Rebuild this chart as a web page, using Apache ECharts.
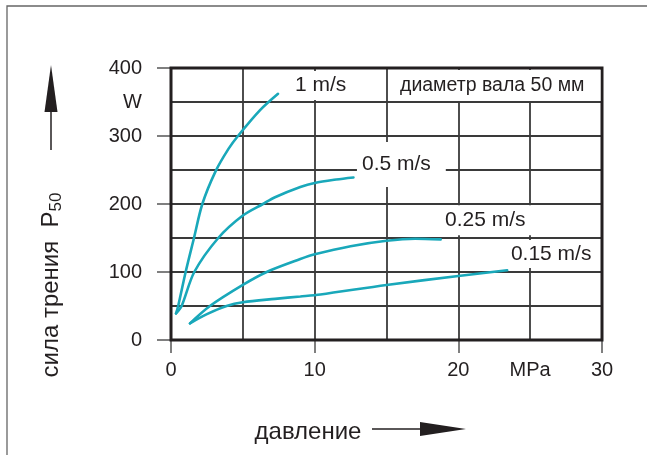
<!DOCTYPE html>
<html>
<head>
<meta charset="utf-8">
<script src="https://cdn.jsdelivr.net/npm/echarts@6/dist/echarts.min.js"></script>
<style>
    html, body { margin: 0; padding: 0; background: #fff; }
    #chart { width: 647px; height: 455px; }
</style>
</head>
<body>
<div id="chart"></div>
<script>
// speeds (curve labels)
const speedNames = ['1 m/s', '0.5 m/s', '0.25 m/s', '0.15 m/s'];

// pressure, MPa / friction force P50, W
const pressure1 = [0.35, 0.5, 1.02, 1.6, 2.18, 3.1, 4.0, 4.66, 6.2, 7.45];
const friction1 = [39, 50, 100, 150, 200, 248, 281, 300, 338, 362];

const pressure05 = [0.35, 0.74, 1.62, 3.29, 5.0, 6.4, 7.24, 9.0, 10.0, 11.5, 12.7];
const friction05 = [39, 50, 100, 150, 183, 200, 210, 225, 231, 236, 239];

const pressure025 = [1.32, 2.71, 5.0, 6.66, 9.0, 10.0, 12.5, 15.0, 17.0, 18.77];
const friction025 = [24.5, 50, 81, 100, 119, 126, 138, 146, 149, 148];

const pressure015 = [1.32, 2.5, 3.87, 5.0, 7.24, 9.0, 10.4, 15.0, 20.0, 23.4];
const friction015 = [24.5, 38, 50, 55.5, 60.5, 64, 67, 81, 94, 102.5];

const xLabelValues = [0, 10, 20, 25, 30];
const xTickValues = [0, 10, 20, 30];
const yLabelValues = [0, 100, 200, 300, 350, 400];
const yTickValues = [0, 100, 200, 300, 400];

const diameterNote = 'диаметр вала 50 мм';
const yName = 'сила трения';
const xName = 'давление';

const font = 'Liberation Sans';
const ink = '#231f20';
const curveColor = '#19a8ba';
const gridLine = { show: true, lineStyle: { color: '#3a3a3a', width: 1.8 } };

function pairs(xs, ys) {
    return xs.map((x, i) => [x, ys[i]]);
}

// label box settings per curve: offset from curve end, padding of white box
const labelBoxes = [
    { offset: [3, -8.3], padding: [4, 6, 5, 6] },
    { offset: [-4.5, -13], padding: [18, 15, 7, 5] },
    { offset: [-5.7, -19], padding: [7, 10, 3, 2] },
    { offset: [-6.3, -16.3], padding: [5, 8, 3, 2] }
];

const seriesData = [
    pairs(pressure1, friction1),
    pairs(pressure05, friction05),
    pairs(pressure025, friction025),
    pairs(pressure015, friction015)
];

let chart = echarts.init(document.getElementById('chart'));
chart.setOption({
    animation: false,
    backgroundColor: '#fff',
    title: {
        text: diameterNote,
        left: 389,
        top: 71,
        padding: [6, 16, 5, 11],
        backgroundColor: '#fff',
        textStyle: {
            fontFamily: font,
            fontSize: 19.5,
            lineHeight: 18,
            fontWeight: 'normal',
            color: ink
        }
    },
    grid: {
        left: 171,
        top: 68,
        right: 45,
        bottom: 115,
        show: true,
        z: 5,
        backgroundColor: 'transparent',
        borderColor: ink,
        borderWidth: 3
    },
    xAxis: [{
        type: 'value',
        min: 0,
        max: 30,
        interval: 5,
        axisLine: { show: false },
        axisTick: {
            show: true,
            customValues: xTickValues,
            length: 13,
            lineStyle: { color: '#555', width: 1.5 }
        },
        axisLabel: {
            customValues: xLabelValues,
            margin: 20,
            fontFamily: font,
            fontSize: 20,
            color: ink,
            formatter: v => v === 25 ? 'MPa' : String(v)
        },
        splitLine: { show: false }
    }, {
        // grid lines every 5 MPa
        type: 'value',
        min: 0,
        max: 30,
        interval: 5,
        position: 'bottom',
        axisLine: { show: false },
        axisTick: { show: false },
        axisLabel: { show: false },
        splitLine: gridLine
    }],
    yAxis: [{
        type: 'value',
        min: 0,
        max: 400,
        interval: 50,
        axisLine: { show: false },
        axisTick: {
            show: true,
            customValues: yTickValues,
            length: 14,
            lineStyle: { color: '#555', width: 1.5 }
        },
        axisLabel: {
            customValues: yLabelValues,
            margin: 29,
            fontFamily: font,
            fontSize: 20,
            color: ink,
            formatter: v => v === 350 ? 'W' : String(v)
        },
        splitLine: { show: false }
    }, {
        // grid lines every 50 W
        type: 'value',
        min: 0,
        max: 400,
        interval: 50,
        position: 'left',
        axisLine: { show: false },
        axisTick: { show: false },
        axisLabel: { show: false },
        splitLine: gridLine
    }],
    series: seriesData.map((d, i) => ({
        name: speedNames[i],
        type: 'line',
        data: d,
        smooth: 0.3,
        showSymbol: false,
        symbol: 'none',
        lineStyle: { color: curveColor, width: 2.6, cap: 'round' },
        itemStyle: { color: curveColor },
        endLabel: {
            show: true,
            formatter: speedNames[i],
            distance: 8,
            offset: labelBoxes[i].offset,
            padding: labelBoxes[i].padding,
            backgroundColor: '#fff',
            fontFamily: font,
            fontSize: 21,
            lineHeight: 20,
            color: ink
        }
    })),
    graphic: [
        {
            type: 'rect',
            silent: true,
            shape: { x: 7, y: 6, width: 700, height: 500 },
            style: { fill: 'none', stroke: '#666', lineWidth: 1.3 }
        },
        {
            type: 'text',
            silent: true,
            x: 51,
            y: 285,
            rotation: Math.PI / 2,
            style: {
                text: '{a|' + yName + '  P}{s|50}',
                align: 'center',
                verticalAlign: 'middle',
                fill: ink,
                rich: {
                    a: { fontFamily: font, fontSize: 24, fill: ink },
                    s: { fontFamily: font, fontSize: 17, fill: ink, padding: [10, 0, 0, 0] }
                }
            }
        },
        {
            type: 'line',
            silent: true,
            shape: { x1: 51, y1: 150, x2: 51, y2: 110 },
            style: { stroke: ink, lineWidth: 1.5 }
        },
        {
            type: 'polygon',
            silent: true,
            shape: { points: [[51, 65], [44.5, 112], [57.5, 112]] },
            style: { fill: ink }
        },
        {
            type: 'text',
            silent: true,
            x: 308,
            y: 432,
            style: {
                text: xName,
                align: 'center',
                verticalAlign: 'middle',
                fontFamily: font,
                fontSize: 24,
                fill: ink
            }
        },
        {
            type: 'line',
            silent: true,
            shape: { x1: 372, y1: 429, x2: 422, y2: 429 },
            style: { stroke: ink, lineWidth: 1.5 }
        },
        {
            type: 'polygon',
            silent: true,
            shape: { points: [[420, 422], [466, 429], [420, 436]] },
            style: { fill: ink }
        }
    ]
});
</script>
</body>
</html>
